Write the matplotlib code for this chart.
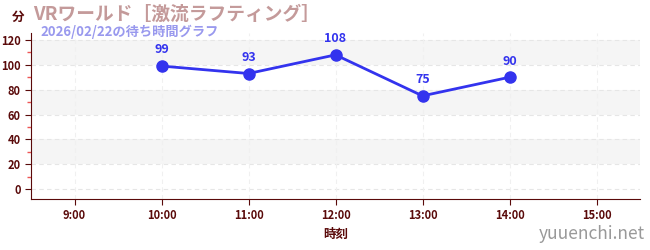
import matplotlib
matplotlib.use("Agg")
import matplotlib.pyplot as plt
from matplotlib.ticker import MultipleLocator

plt.rcParams['font.family'] = ['Noto Sans CJK JP', 'DejaVu Sans']

hours = [10, 11, 12, 13, 14]
waits = [99, 93, 108, 75, 90]
xticks = [9, 10, 11, 12, 13, 14, 15]
xticklabels = ["9:00", "10:00", "11:00", "12:00", "13:00", "14:00", "15:00"]
yticks = [0, 20, 40, 60, 80, 100, 120]

title = "VRワールド［激流ラフティング］"
subtitle = "2026/02/22の待ち時間グラフ"

dark = "#5a0a0a"
fig = plt.figure(figsize=(6.5, 2.5), dpi=100)
ax = fig.add_axes([31/650, 51/250, 609/650, 166/250])
ax.set_xlim(8.5, 15.5)
ax.set_ylim(-8, 125.6)

for lo in (20, 60, 100):
    ax.axhspan(lo, lo + 20, color="#f5f5f5", zorder=0, lw=0)
for y in yticks:
    ax.axhline(y, color="#e6e6e6", lw=0.8, ls=(0, (4, 3)), zorder=0.5)
for x in xticks:
    ax.axvline(x, color="#f0f0f0", lw=0.8, ls=(0, (4, 3)), zorder=0.5)

ax.plot(hours, waits, color="#3333ee", lw=2, marker="o", ms=8, zorder=3)
for h, w in zip(hours, waits):
    ax.annotate(str(w), (h, w), xytext=(0, 7), textcoords="offset points",
                ha="center", va="bottom", color="#3333ee", fontsize=9, fontweight="bold")

ax.set_xticks(xticks)
ax.set_xticklabels(xticklabels)
ax.set_yticks(yticks)
ax.yaxis.set_minor_locator(MultipleLocator(10))
ax.tick_params(axis="y", which="minor", length=3, color="#ee5555", width=1)
ax.tick_params(axis="both", which="major", labelsize=8, colors=dark, length=4)
for lbl in ax.get_xticklabels() + ax.get_yticklabels():
    lbl.set_fontweight("bold")
for s in ("top", "right"):
    ax.spines[s].set_visible(False)
for s in ("left", "bottom"):
    ax.spines[s].set_color(dark)
ax.set_xlabel("時刻", color=dark, fontsize=9, fontweight="bold", labelpad=4)

fig.text(12/650, 1 - 17/250, "分", color=dark, fontsize=9, fontweight="bold", va="center")
fig.text(33/650, 1 - 14/250, title, color="#c49a9a", fontsize=13.5, fontweight="bold", va="center")
fig.text(40/650, 1 - 32/250, subtitle, color="#9999ee", fontsize=9.5, fontweight="bold", va="center")
fig.text(645/650, 1 - 234/250, "yuuenchi.net", color="#999999", fontsize=12.5, ha="right", va="center")

fig.savefig("out.png", dpi=100)
